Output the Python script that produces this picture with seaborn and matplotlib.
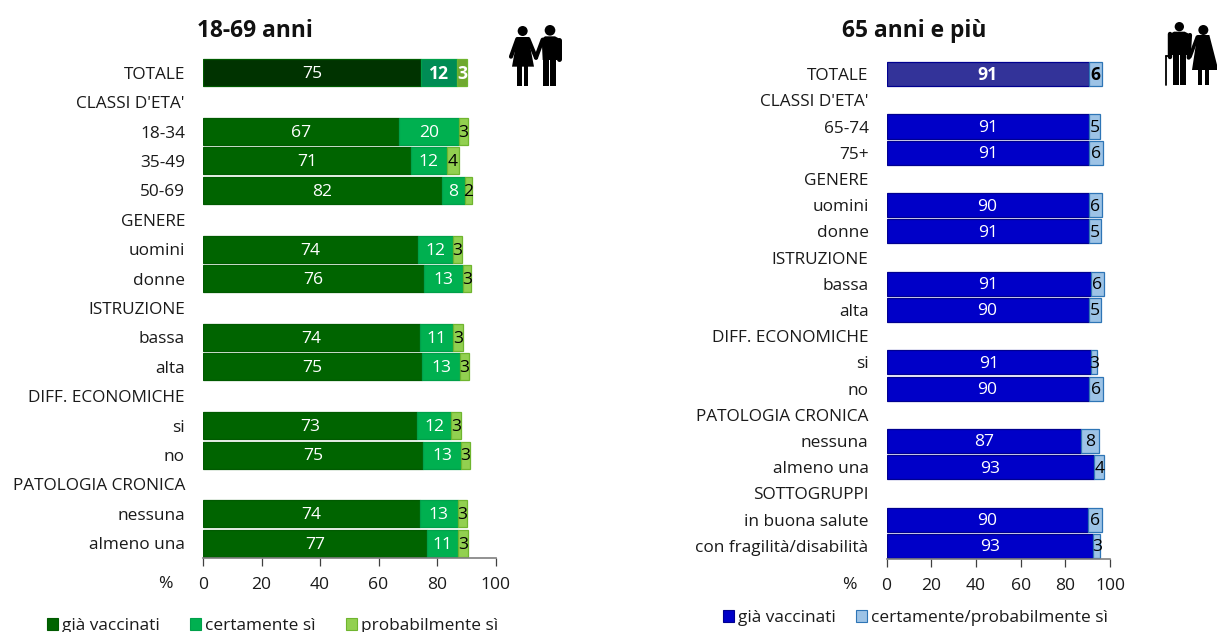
import matplotlib
matplotlib.use("Agg")
import matplotlib.pyplot as plt
import numpy as np
import pandas as pd
import seaborn as sns
from matplotlib.patches import Circle, Patch, Polygon, Rectangle

W, H = 1217, 632

labels_young = ["TOTALE", "CLASSI D'ETA'", "18-34", "35-49", "50-69", "GENERE", "uomini", "donne",
                "ISTRUZIONE", "bassa", "alta", "DIFF. ECONOMICHE", "si", "no",
                "PATOLOGIA CRONICA", "nessuna", "almeno una"]
young_done = [74.6, 0, 67.1, 71.0, 81.7, 0, 73.6, 75.6, 0, 74.2, 75.0, 0, 73.2, 75.3, 0, 74.1, 76.7]
young_sure = [12.3, 0, 20.4, 12.4, 7.9, 0, 11.7, 13.3, 0, 11.3, 12.7, 0, 11.6, 12.9, 0, 12.9, 10.6]
young_prob = [3.3, 0, 2.9, 4.1, 2.2, 0, 3.3, 2.8, 0, 3.4, 3.1, 0, 3.3, 3.0, 0, 3.1, 3.2]

labels_old = ["TOTALE", "CLASSI D'ETA'", "65-74", "75+", "GENERE", "uomini", "donne",
              "ISTRUZIONE", "bassa", "alta", "DIFF. ECONOMICHE", "si", "no",
              "PATOLOGIA CRONICA", "nessuna", "almeno una", "SOTTOGRUPPI",
              "in buona salute", "con fragilità/disabilità"]
old_done = [90.7, 0, 90.6, 90.6, 0, 90.4, 90.7, 0, 91.3, 90.4, 0, 91.4, 90.4, 0, 86.9, 93.0, 0, 90.0, 92.6]
old_yes = [5.6, 0, 5.1, 6.1, 0, 6.2, 5.1, 0, 6.0, 5.4, 0, 2.8, 6.3, 0, 8.0, 4.3, 0, 6.4, 3.1]

legend_young = ["già vaccinati", "certamente sì", "probabilmente sì"]
legend_old = ["già vaccinati", "certamente/probabilmente sì"]

colors_young = ["#006400", "#00B050", "#92D050"]
total_young = ["#003300", "#008C55", "#6FA82F"]
edges_young = ["#005A00", "#00A04A", "#6FB52F"]
colors_old = ["#0000C8", "#9DC3E6"]
total_old = ["#333399", "#9DC3E6"]
edges_old = ["#000090", "#2E75B6"]

sns.set_theme(style="white")
plt.rcParams['font.family'] = ['Open Sans', 'DejaVu Sans']
FS = 12.4
FS_NUM = 12.6


def px_axes(fig, x0, y0, x1, y1):
    return fig.add_axes([x0 / W, 1 - y1 / H, (x1 - x0) / W, (y1 - y0) / H])


def stacked(ax, labels, segments, colors, total_colors, edges, bar_h, total_bold, total_txt):
    left = np.zeros(len(labels))
    for i, seg in enumerate(segments):
        df = pd.DataFrame({"group": labels, "value": seg})
        sns.barplot(df, x="value", y="group", orient="y", order=labels, left=left, color=colors[i],
                    width=bar_h, saturation=1, edgecolor=edges[i], linewidth=0.9, ax=ax)
        cont = ax.containers[-1]
        cont[0].set_facecolor(total_colors[i])
        for p, v in zip(cont, seg):
            if v == 0:
                p.set_visible(False)
        txt = [f"{v:.0f}" if v > 0 else "" for v in seg]
        anns = ax.bar_label(cont, labels=txt, label_type="center", fontsize=FS_NUM, color="white")
        for t in anns:
            t.set_color("black" if i == len(segments) - 1 else "white")
            t.xyann = (0, -1)
        anns[0].set_color(total_txt[i])
        if total_bold[i]:
            anns[0].set_fontweight("bold")
        left = left + np.array(seg)

    ax.set_xlim(0, 100)
    ax.set_xticks(range(0, 101, 20))
    ax.set_xlabel("")
    ax.set_ylabel("")
    sns.despine(ax=ax, left=True)
    ax.spines["bottom"].set_color("#7f7f7f")
    ax.spines["bottom"].set_linewidth(1.2)
    ax.tick_params(axis="x", length=5.5, width=0.9, color="#404040", bottom=True, pad=8.5, labelsize=FS_NUM,
                   labelcolor="#1a1a1a")
    ax.tick_params(axis="y", length=0, pad=13, labelsize=FS, labelcolor="#1a1a1a")
    ax.patch.set_alpha(0)


def icon_parts(ax, parts):
    ax.axis("off")
    for kind, *a in parts:
        if kind == "c":
            ax.add_patch(Circle((a[0], a[1]), a[2], color="black", lw=0))
        elif kind == "p":
            ax.add_patch(Polygon(a[0], closed=True, color="black", lw=0))
        elif kind == "r":
            ax.add_patch(Rectangle((a[0], a[1]), a[2] - a[0], a[3] - a[1], color="black", lw=0))
        elif kind == "l":
            ax.plot(a[0], a[1], color="black", lw=a[2], solid_capstyle="round")


fig = plt.figure(figsize=(W / 100, H / 100), dpi=100)

ax1 = px_axes(fig, 203, 58, 495.6, 558)
stacked(ax1, labels_young, [young_done, young_sure, young_prob], colors_young, total_young, edges_young,
        0.92, [False, True, True], ["white", "white", "white"])
ax2 = px_axes(fig, 886.6, 61, 1110, 559)
stacked(ax2, labels_old, [old_done, old_yes], colors_old, total_old, edges_old,
        0.92, [True, True], ["white", "black"])

fig.text(255 / W, 1 - 31 / H, "18-69 anni", fontsize=16.4, fontweight="bold", ha="center", va="center", color="#111111")
fig.text(914 / W, 1 - 31 / H, "65 anni e più", fontsize=16.4, fontweight="bold", ha="center", va="center", color="#111111")
fig.text(165 / W, 1 - 584 / H, "%", fontsize=FS_NUM, ha="center", va="center", color="#1a1a1a")
fig.text(849 / W, 1 - 585 / H, "%", fontsize=FS_NUM, ha="center", va="center", color="#1a1a1a")

h1 = [Patch(facecolor=c, edgecolor=e, lw=0.8) for c, e in zip(colors_young, edges_young)]
fig.legend(h1, legend_young, ncol=3, loc="center left", bbox_to_anchor=(47 / W, 1 - 626 / H), frameon=False,
           fontsize=FS, handlelength=0.64, handleheight=0.64, handletextpad=0.25, columnspacing=1.74,
           borderpad=0, borderaxespad=0, labelcolor="#1a1a1a")
h2 = [Patch(facecolor=c, edgecolor=e, lw=0.8) for c, e in zip(colors_old, edges_old)]
fig.legend(h2, legend_old, ncol=2, loc="center left", bbox_to_anchor=(723 / W, 1 - 618 / H), frameon=False,
           fontsize=FS, handlelength=0.64, handleheight=0.64, handletextpad=0.25, columnspacing=1.16,
           borderpad=0, borderaxespad=0, labelcolor="#1a1a1a")

# icons, sketched in zoomed pixel units of the reference crops
ic1 = px_axes(fig, 500, 15, 575, 95)
icon_parts(ic1, [
    ("c", 68, 48, 15),
    ("p", [(52, 66), (85, 66), (102, 155), (36, 155)]),
    ("l", [52, 33], [72, 125], 3),
    ("l", [85, 108], [72, 128], 3),
    ("r", 52, 150, 65, 212), ("r", 71, 150, 84, 212),
    ("c", 150, 46, 16),
    ("p", [(135, 64), (165, 64), (180, 72), (172, 135), (128, 135), (125, 72)]),
    ("l", [128, 108], [74, 128], 3),
    ("l", [177, 177], [74, 132], 3.6),
    ("r", 129, 130, 147, 212), ("r", 151, 130, 169, 212),
])
ic1.set_xlim(0, 225)
ic1.set_ylim(240, 0)

ic2 = px_axes(fig, 1150, 15, 1217, 95)
icon_parts(ic2, [
    ("c", 88, 35, 14),
    ("p", [(72, 50), (104, 50), (120, 58), (116, 120), (62, 120), (58, 58)]),
    ("l", [60, 60], [58, 125], 3.2),
    ("l", [120, 116], [60, 128], 3),
    ("l", [47, 47], [122, 210], 1.3),
    ("l", [47, 58], [122, 122], 1.3),
    ("r", 68, 118, 86, 210), ("r", 91, 118, 109, 210),
    ("c", 160, 45, 15),
    ("p", [(142, 60), (178, 60), (205, 165), (126, 165)]),
    ("l", [142, 120], [66, 125], 2.6),
    ("r", 144, 160, 157, 210), ("r", 164, 160, 177, 210),
])
ic2.set_xlim(0, 201)
ic2.set_ylim(240, 0)

plt.savefig("out.png", dpi=100)
